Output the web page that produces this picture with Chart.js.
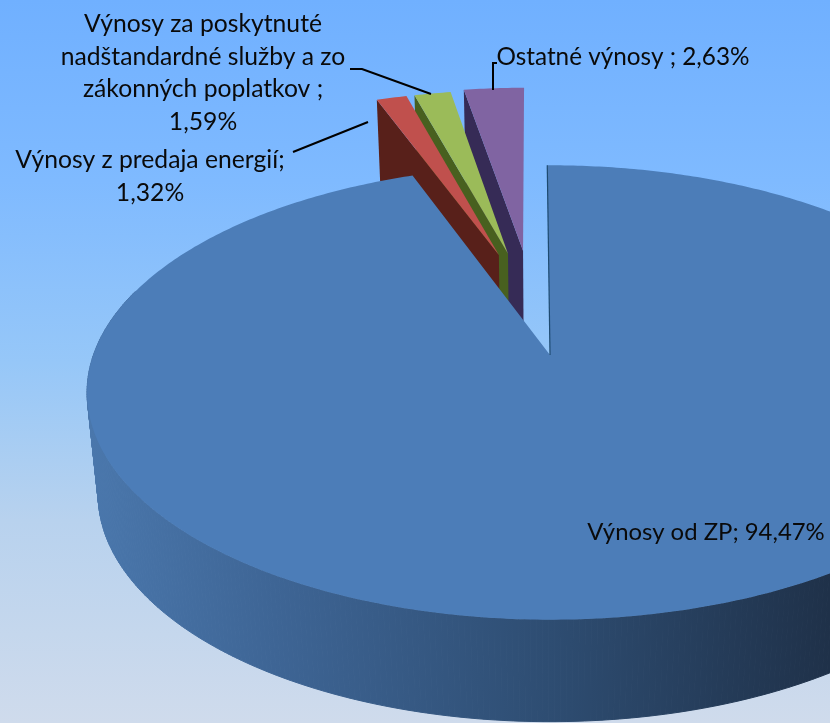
<!DOCTYPE html>
<html lang="sk">
<head>
<meta charset="utf-8">
<title>Výnosy</title>
<style>html,body{margin:0;padding:0;overflow:hidden;width:830px;height:723px}canvas{display:block}</style>
<script src="https://cdn.jsdelivr.net/npm/chart.js@4/dist/chart.umd.min.js"></script>
</head>
<body>
<canvas id="c" width="830" height="723"></canvas>
<script>
const categories = ['Výnosy od ZP', 'Výnosy z predaja energií', 'Výnosy za poskytnuté nadštandardné služby a zo zákonných poplatkov', 'Ostatné výnosy'];
const shares = [94.47, 1.32, 1.59, 2.63];
const topColours = ['#4c7db8', '#c0504d', '#9bbb59', '#8064a2'];
const cutColours = ['#1d4a70', '#58201a', '#48601f', '#362b56'];
const labelLayout = [
  {lines: ['Výnosy od ZP; 94,47%'], x: 706, y: 532, size: 23.9},
  {lines: ['Výnosy z predaja energií;', '1,32%'], x: 150, y: 160, size: 24.7},
  {lines: ['Výnosy za poskytnuté', 'nadštandardné služby a zo', 'zákonných poplatkov ;', '1,59%'], x: 203, y: 24, size: 24.7},
  {lines: ['Ostatné výnosy ; 2,63%'], x: 623, y: 57, size: 24.3}
];
const leaders = [
  [[293,152],[368,122]],
  [[350,69],[362,69],[431,94]],
  [[493,90],[493,63],[497,63]]
];
const explodeX = [0, -0.121, -0.0995, -0.064];
const explodeY = [0, -0.489, -0.495, -0.511];

// view: perspective projection of the pie plane
const view = {cx: 550, cy: 355, rx: 456.6, ry: 221, k: 0.165, depth: 102, bottomScale: 0.976};
function topPoint(X, Y) {
  const w = 1 - view.k * Y;
  return [view.cx + view.rx * X / w, view.cy + view.ry * Y / w];
}
function bottomPoint(X, Y) {
  const p = topPoint(X, Y);
  return [view.cx + (p[0] - view.cx) * view.bottomScale, p[1] + view.depth];
}
function rimPoints(el, i, fn) {
  const pts = [], n = Math.max(4, Math.ceil((el.endAngle - el.startAngle) * 90));
  for (let j = 0; j <= n; j++) {
    const a = el.startAngle + (el.endAngle - el.startAngle) * j / n;
    pts.push(fn(explodeX[i] + Math.cos(a), explodeY[i] + Math.sin(a), a));
  }
  return pts;
}
function fillPoly(ctx, pts, fill) {
  ctx.beginPath();
  pts.forEach((p, j) => j ? ctx.lineTo(p[0], p[1]) : ctx.moveTo(p[0], p[1]));
  ctx.closePath();
  ctx.fillStyle = fill;
  ctx.fill();
}
class Pie3DController extends Chart.PieController {
  draw() {
    const ctx = this.chart.ctx, els = this._cachedMeta.data;
    ctx.save();
    for (let i = els.length - 1; i >= 0; i--) {
      const el = els[i];
      const topRim = rimPoints(el, i, topPoint), botRim = rimPoints(el, i, bottomPoint);
      const angle = j => el.startAngle + (el.endAngle - el.startAngle) * j / (topRim.length - 1);
      const apexT = topPoint(explodeX[i], explodeY[i]), apexB = bottomPoint(explodeX[i], explodeY[i]);
      if (i === 0) {
        // front wall, swept segment by segment from the top rim to the bottom rim
        const wall = ctx.createLinearGradient(90, 0, 830, 0);
        wall.addColorStop(0, '#4a77ac');
        wall.addColorStop(0.25, '#3e6595');
        wall.addColorStop(0.62, '#2e4d72');
        wall.addColorStop(1, '#1f3149');
        ctx.strokeStyle = wall;
        ctx.lineWidth = 1;
        for (let j = 0; j < topRim.length - 1; j++) {
          if (Math.sin(angle(j)) < -0.3) continue;
          fillPoly(ctx, [topRim[j], topRim[j + 1], botRim[j + 1], botRim[j]], wall);
          ctx.stroke();
        }
      } else {
        // visible cut face on the left of an exploded slice
        fillPoly(ctx, [topRim[0], apexT, apexB, botRim[0]], cutColours[i]);
      }
      // top face
      fillPoly(ctx, [apexT].concat(topRim), topColours[i]);
      if (i === 0) {
        ctx.beginPath();
        ctx.moveTo(apexT[0], apexT[1]);
        ctx.lineTo(topRim[0][0], topRim[0][1]);
        ctx.strokeStyle = cutColours[0];
        ctx.lineWidth = 1.2;
        ctx.stroke();
      }
    }
    ctx.restore();
  }
}
Pie3DController.id = 'pie3d';
Pie3DController.defaults = Chart.PieController.defaults;
Pie3DController.overrides = Chart.PieController.overrides;
Chart.register(Pie3DController);

const backdrop = {
  id: 'backdrop',
  beforeDraw(chart) {
    const {ctx, width, height} = chart;
    const g = ctx.createLinearGradient(0, 0, 0, height);
    g.addColorStop(0, '#70b0ff');
    g.addColorStop(0.25, '#7fbaff');
    g.addColorStop(0.5, '#96c7f8');
    g.addColorStop(0.72, '#b8d2ee');
    g.addColorStop(1, '#cfdbec');
    ctx.fillStyle = g;
    ctx.fillRect(0, 0, width, height);
  }
};
const annotations = {
  id: 'annotations',
  afterDatasetsDraw(chart) {
    const ctx = chart.ctx;
    ctx.save();
    ctx.strokeStyle = '#000';
    ctx.lineWidth = 2;
    leaders.forEach(l => {
      ctx.beginPath();
      l.forEach((p, j) => j ? ctx.lineTo(p[0], p[1]) : ctx.moveTo(p[0], p[1]));
      ctx.stroke();
    });
    ctx.fillStyle = '#0a0a0a';
    ctx.textAlign = 'center';
    ctx.textBaseline = 'middle';
    labelLayout.forEach(l => {
      ctx.font = l.size + 'px Lato, "Open Sans", sans-serif';
      l.lines.forEach((t, j) => ctx.fillText(t, l.x, l.y + j * 32.7));
    });
    ctx.restore();
  }
};
new Chart(document.getElementById('c'), {
  type: 'pie3d',
  data: {labels: categories, datasets: [{data: shares, backgroundColor: topColours, borderWidth: 0}]},
  options: {
    responsive: false,
    animation: false,
    events: [],
    rotation: -0.4,
    plugins: {legend: {display: false}, tooltip: {enabled: false}, title: {display: false}}
  },
  plugins: [backdrop, annotations]
});
</script>
</body>
</html>
